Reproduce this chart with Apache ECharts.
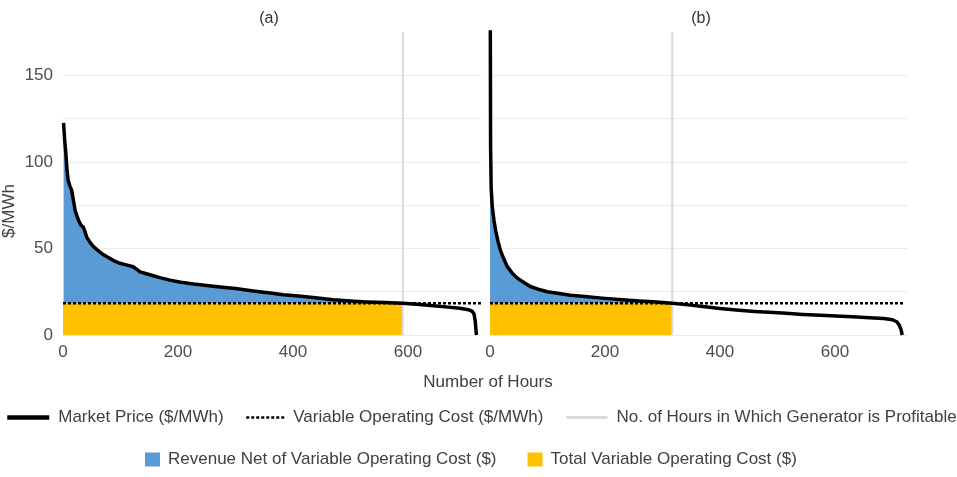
<!DOCTYPE html>
<html>
<head>
    <meta charset="utf-8">
    <title>price duration</title>
    <script src="https://cdn.jsdelivr.net/npm/echarts@6.0.0/dist/echarts.min.js"></script>
</head>
<body style="margin:0">
    <div id="main" style="width: 957px; height: 477px;"></div>
    <script type="text/javascript">
    // hours sorted by price
    var hoursA = [1, 3, 5, 7, 9, 12, 15, 18, 21, 24, 27, 31, 35, 38, 41, 47, 53, 60, 67, 75, 82, 90, 99, 110, 122, 128, 134, 145, 157, 170, 186, 205, 227, 250, 273, 300, 331, 360, 383, 410, 435, 470, 500, 528, 560, 591, 620, 644, 670, 690, 705, 712, 715, 717, 718, 719];
    var priceA = [122.5, 112, 104.8, 95, 89.4, 86, 83.7, 78, 72, 69, 66.3, 63.5, 62.5, 60, 56.7, 53.5, 51, 49, 47.1, 45.5, 44.2, 42.6, 41.4, 40.5, 39.4, 38, 36.5, 35.4, 34.2, 33, 31.7, 30.5, 29.4, 28.6, 27.7, 26.8, 25.4, 24.2, 23.3, 22.5, 21.6, 20.3, 19.6, 19.1, 18.7, 18.3, 17.6, 16.9, 16.1, 15.4, 14.6, 13.6, 12, 8, 4, 0];
    var hoursB = [0, 1, 2, 4, 7, 10, 14, 18, 24, 30, 38, 47, 57, 70, 85, 100, 120, 140, 165, 195, 230, 260, 290, 317, 345, 370, 400, 428, 460, 486, 515, 544, 575, 602, 630, 660, 685, 700, 708, 712, 715, 717];
    var priceB = [260, 110, 85, 74, 66, 60, 54, 49, 44, 39.5, 36, 33, 30.8, 28, 26.3, 25, 24, 23, 22.2, 21.3, 20.3, 19.6, 19, 18.3, 17.4, 16.4, 15.3, 14.4, 13.6, 13.1, 12.5, 11.9, 11.4, 11, 10.5, 10, 9.5, 8.8, 7.5, 5.5, 3, 0];
    var varCost = 18.3;
    var profitableHours = [591, 317];
    var costLineEnd = [743, 720];
    var panelTitles = ['(a)', '(b)'];
    var yMax = 175;
    var xMax = 727;

    var names = {
        price: 'Market Price ($/MWh)',
        cost: 'Variable Operating Cost ($/MWh)',
        hours: 'No. of Hours in Which Generator is Profitable',
        net: 'Revenue Net of Variable Operating Cost ($)',
        total: 'Total Variable Operating Cost ($)'
    };
    var font = 'Liberation Sans, Arial, sans-serif';
    var legendText = { fontSize: 17, color: '#404040', fontFamily: font, padding: [0, 0, 0, 4] };

    function panelSeries(i, hours, price) {
        var curve = hours.map(function(h, k) { return [h, price[k]]; });
        var be = profitableHours[i];
        var area = curve.filter(function(p) { return p[0] <= be; });
        return [{
            name: names.total, type: 'line', xAxisIndex: i, yAxisIndex: i,
            data: [[0, varCost], [be, varCost]], symbol: 'none', color: '#ffc000',
            lineStyle: { width: 0 }, areaStyle: { color: '#ffc000', opacity: 1, origin: 'start' }, z: 1
        }, {
            name: names.net, type: 'line', xAxisIndex: i, yAxisIndex: i,
            data: area, symbol: 'none', color: '#5b9bd5',
            lineStyle: { width: 0 }, areaStyle: { color: '#5b9bd5', opacity: 1, origin: varCost }, z: 1
        }, {
            name: names.hours, type: 'line', xAxisIndex: i, yAxisIndex: i,
            data: [[be, 0], [be, yMax]], symbol: 'none', color: '#dadada',
            lineStyle: { width: 2, color: '#dadada' }, z: 2
        }, {
            name: names.cost, type: 'line', xAxisIndex: i, yAxisIndex: i, clip: false,
            data: [[0, varCost], [costLineEnd[i], varCost]], symbol: 'none', color: '#000',
            lineStyle: { width: 2.5, color: '#000', type: [3, 2] }, z: 3
        }, {
            name: names.price, type: 'line', xAxisIndex: i, yAxisIndex: i,
            data: curve, symbol: 'none', color: '#000',
            lineStyle: { width: 3.5, color: '#000', join: 'round' }, z: 4
        }];
    }

    function xAxis(i) {
        return {
            type: 'value', gridIndex: i, min: 0, max: xMax, interval: 200,
            axisLine: { show: false }, axisTick: { show: false }, splitLine: { show: false },
            axisLabel: {
                color: '#4d4d4d', fontSize: 17, fontFamily: font, margin: 9,
                formatter: function(v) { return v % 200 === 0 ? v : ''; }
            }
        };
    }
    function yAxis(i) {
        return {
            type: 'value', gridIndex: i, min: 0, max: yMax, interval: 25,
            axisLine: { show: false }, axisTick: { show: false },
            splitLine: { show: true, showMaxLine: false, lineStyle: { color: '#ebebeb', width: 1.2 } },
            axisLabel: {
                show: i === 0, color: '#4d4d4d', fontSize: 17, fontFamily: font, margin: 10,
                formatter: function(v) { return v % 50 === 0 ? v : ''; }
            }
        };
    }
    function lineLegend(name, left, width, lineStyle) {
        return {
            left: left, top: 409, padding: 0, itemWidth: width, itemHeight: 14,
            data: [name], itemStyle: { opacity: 0 }, lineStyle: lineStyle, textStyle: legendText
        };
    }

    var myChart = echarts.init(document.getElementById('main'));
    var option = {
        backgroundColor: '#fff',
        animation: false,
        title: [
            { text: panelTitles[0], left: 264, top: 6, textAlign: 'center', textStyle: { fontSize: 16, fontWeight: 'normal', color: '#333', fontFamily: font } },
            { text: panelTitles[1], left: 696, top: 6, textAlign: 'center', textStyle: { fontSize: 16, fontWeight: 'normal', color: '#333', fontFamily: font } },
            { text: 'Number of Hours', left: 483, top: 369, textAlign: 'center', textStyle: { fontSize: 17, fontWeight: 'normal', color: '#404040', fontFamily: font } }
        ],
        graphic: [{
            type: 'text', x: 9, y: 211, rotation: Math.PI / 2,
            style: { text: '$/MWh', fontSize: 17, fontFamily: font, fill: '#404040', align: 'center', verticalAlign: 'middle' }
        }],
        legend: [
            lineLegend(names.price, 5, 42, { width: 4.5 }),
            lineLegend(names.cost, 245, 38, { width: 2.5 }),
            lineLegend(names.hours, 565, 41, { width: 3 }),
            {
                left: 145, top: 451, padding: 0, itemWidth: 15, itemHeight: 14, itemGap: 31, icon: 'rect',
                data: [names.net, names.total],
                textStyle: { fontSize: 17, color: '#404040', fontFamily: font, padding: [0, 0, 0, 3] }
            }
        ],
        grid: [
            { left: 63, top: 32, width: 418, height: 303 },
            { left: 490, top: 32, width: 418, height: 303 }
        ],
        xAxis: [xAxis(0), xAxis(1)],
        yAxis: [yAxis(0), yAxis(1)],
        series: panelSeries(0, hoursA, priceA).concat(panelSeries(1, hoursB, priceB))
    };
    myChart.setOption(option);
    </script>
</body>
</html>
